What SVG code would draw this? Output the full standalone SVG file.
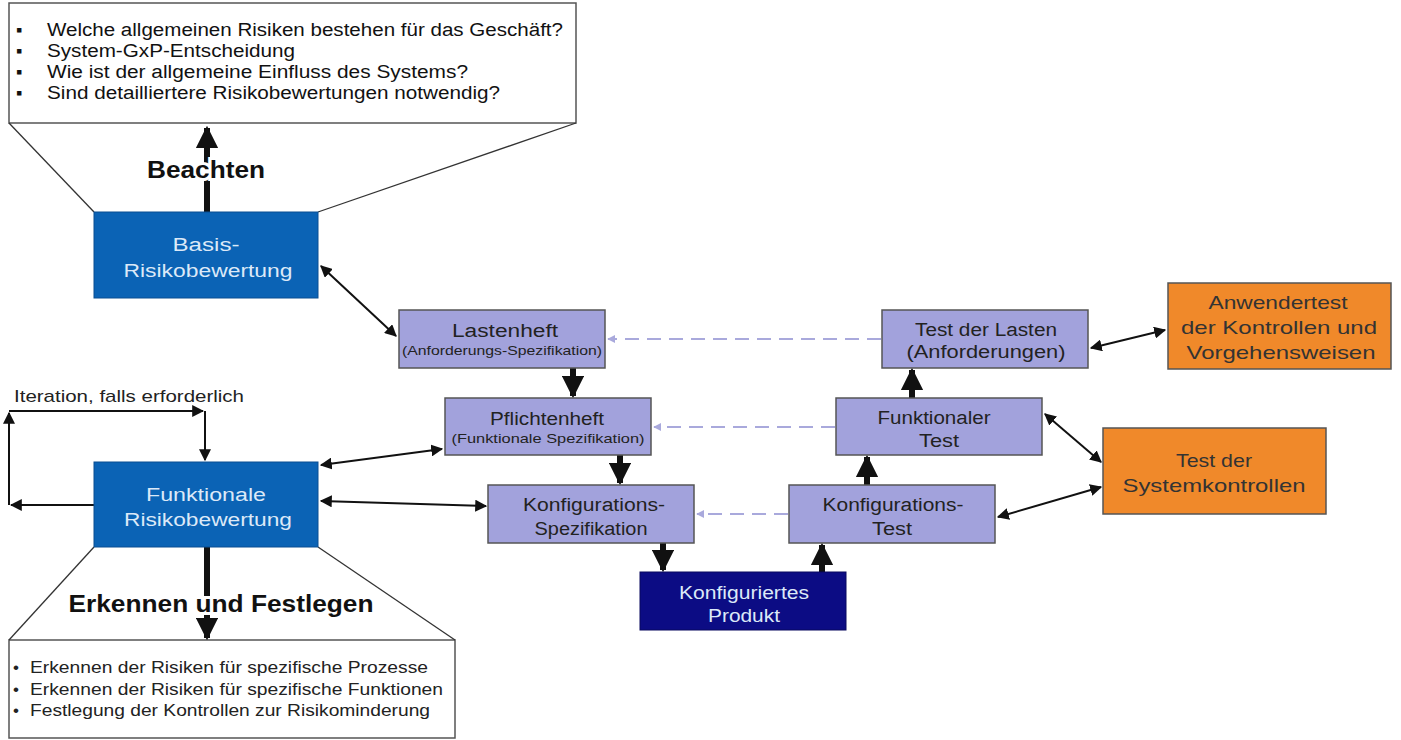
<svg xmlns="http://www.w3.org/2000/svg" width="1401" height="740" viewBox="0 0 1401 740">
<defs>
<style>
text{font-family:"Liberation Sans",Arial,sans-serif}
.lav{fill:#a2a2dc;stroke:#555;stroke-width:1.5}
.blue{fill:#0b63b5;stroke:#0a4f92;stroke-width:1}
.navy{fill:#0c0c84;stroke:#08085e;stroke-width:1}
.orng{fill:#f0892a;stroke:#555;stroke-width:1.5}
.note{fill:#fff;stroke:#555;stroke-width:1.5}
.t{font-size:18px;fill:#222;text-anchor:middle}
.tw{font-size:18px;fill:#dce9f8;text-anchor:middle}
.ts{font-size:13px;fill:#222;text-anchor:middle}
.to{font-size:19px;fill:#333;text-anchor:middle}
.nt{font-size:18px;fill:#111}
.nb{font-size:17px;fill:#222}
.bold{font-size:23px;font-weight:bold;fill:#111;text-anchor:middle;stroke:#fff;stroke-width:6;paint-order:stroke}
.thin{stroke:#111;stroke-width:2;fill:none}
.thick{stroke:#111;stroke-width:6;fill:none}
.dash{stroke:#a9a9dc;stroke-width:2;stroke-dasharray:14 8;fill:none}
.diag{stroke:#333;stroke-width:1.3;fill:none}
</style>
<marker id="ah" viewBox="0 0 10 10" refX="9" refY="5" markerWidth="6" markerHeight="6" orient="auto-start-reverse"><path d="M0,0 L10,5 L0,10 z" fill="#111"/></marker>
<marker id="ahd" viewBox="0 0 10 10" refX="9" refY="5" markerWidth="4" markerHeight="4" orient="auto"><path d="M0,0 L10,5 L0,10 z" fill="#a9a9dc"/></marker>
<marker id="ahT" viewBox="0 0 10 10" refX="9" refY="5" markerWidth="3.7" markerHeight="3.7" orient="auto"><path d="M0,0 L10,5 L0,10 z" fill="#111"/></marker>
</defs>
<rect width="1401" height="740" fill="#fff"/>

<g id="note-top">
<rect class="note" x="9" y="3" width="567" height="120"/>
<text class="nt" x="16" y="36">▪</text><text class="nt" x="47" y="36" textLength="516" lengthAdjust="spacingAndGlyphs">Welche allgemeinen Risiken bestehen für das Geschäft?</text>
<text class="nt" x="16" y="57">▪</text><text class="nt" x="47" y="57" textLength="248" lengthAdjust="spacingAndGlyphs">System-GxP-Entscheidung</text>
<text class="nt" x="16" y="78">▪</text><text class="nt" x="47" y="78" textLength="421" lengthAdjust="spacingAndGlyphs">Wie ist der allgemeine Einfluss des Systems?</text>
<text class="nt" x="16" y="99">▪</text><text class="nt" x="47" y="99" textLength="453" lengthAdjust="spacingAndGlyphs">Sind detailliertere Risikobewertungen notwendig?</text>
</g>

<g id="note-bottom">
<rect class="note" x="9" y="640" width="446" height="98"/>
<text class="nb" x="13" y="673">•</text><text class="nb" x="30" y="673" textLength="398" lengthAdjust="spacingAndGlyphs">Erkennen der Risiken für spezifische Prozesse</text>
<text class="nb" x="13" y="695">•</text><text class="nb" x="30" y="695" textLength="413" lengthAdjust="spacingAndGlyphs">Erkennen der Risiken für spezifische Funktionen</text>
<text class="nb" x="13" y="716">•</text><text class="nb" x="30" y="716" textLength="400" lengthAdjust="spacingAndGlyphs">Festlegung der Kontrollen zur Risikominderung</text>
</g>

<g id="connectors">
<line class="diag" x1="9" y1="123" x2="94" y2="212"/>
<line class="diag" x1="576" y1="123" x2="318" y2="212"/>
<line class="diag" x1="9" y1="640" x2="94" y2="547"/>
<line class="diag" x1="455" y1="640" x2="318" y2="547"/>
<line class="thick" x1="207" y1="212" x2="207" y2="128" marker-end="url(#ahT)"/>
<line class="thick" x1="207" y1="547" x2="207" y2="638" marker-end="url(#ahT)"/>
<line class="thin" x1="321" y1="266" x2="396" y2="336" marker-start="url(#ah)" marker-end="url(#ah)"/>
<line class="thin" x1="321" y1="465" x2="442" y2="449" marker-start="url(#ah)" marker-end="url(#ah)"/>
<line class="thin" x1="321" y1="501" x2="486" y2="506" marker-start="url(#ah)" marker-end="url(#ah)"/>
<line class="thin" x1="94" y1="505" x2="11" y2="505" marker-end="url(#ah)"/>
<line class="thin" x1="9" y1="505" x2="9" y2="413" marker-end="url(#ah)"/>
<line class="thin" x1="9" y1="411" x2="203" y2="411" marker-end="url(#ah)"/>
<line class="thin" x1="205" y1="411" x2="205" y2="460" marker-end="url(#ah)"/>
<line class="thick" x1="573" y1="368" x2="573" y2="396" marker-end="url(#ahT)"/>
<line class="thick" x1="620" y1="455" x2="620" y2="483" marker-end="url(#ahT)"/>
<line class="thick" x1="663" y1="543" x2="663" y2="570" marker-end="url(#ahT)"/>
<line class="thick" x1="822" y1="572" x2="822" y2="545" marker-end="url(#ahT)"/>
<line class="thick" x1="867" y1="485" x2="867" y2="457" marker-end="url(#ahT)"/>
<line class="thick" x1="912" y1="398" x2="912" y2="370" marker-end="url(#ahT)"/>
<line class="dash" x1="881" y1="339" x2="608" y2="339" marker-end="url(#ahd)"/>
<line class="dash" x1="835" y1="427" x2="654" y2="427" marker-end="url(#ahd)"/>
<line class="dash" x1="788" y1="514" x2="697" y2="514" marker-end="url(#ahd)"/>
<line class="thin" x1="1091" y1="348" x2="1165" y2="330" marker-start="url(#ah)" marker-end="url(#ah)"/>
<line class="thin" x1="1045" y1="414" x2="1101" y2="462" marker-start="url(#ah)" marker-end="url(#ah)"/>
<line class="thin" x1="998" y1="517" x2="1101" y2="487" marker-start="url(#ah)" marker-end="url(#ah)"/>
</g>

<g id="label-beachten"><text class="bold" x="206" y="178" textLength="118" lengthAdjust="spacingAndGlyphs">Beachten</text></g>
<g id="label-erkennen"><text class="bold" x="221" y="612" textLength="305" lengthAdjust="spacingAndGlyphs">Erkennen und Festlegen</text></g>
<g id="label-iteration"><text class="nb" x="14" y="402" textLength="230" lengthAdjust="spacingAndGlyphs">Iteration, falls erforderlich</text></g>

<g id="basis">
<rect class="blue" x="94" y="212" width="224" height="86"/>
<text class="tw" x="206" y="251" textLength="67" lengthAdjust="spacingAndGlyphs">Basis-</text>
<text class="tw" x="208" y="277" textLength="169" lengthAdjust="spacingAndGlyphs">Risikobewertung</text>
</g>

<g id="funktionale-risiko">
<rect class="blue" x="94" y="462" width="224" height="85"/>
<text class="tw" x="206" y="501" textLength="120" lengthAdjust="spacingAndGlyphs">Funktionale</text>
<text class="tw" x="208" y="526" textLength="168" lengthAdjust="spacingAndGlyphs">Risikobewertung</text>
</g>

<g id="lastenheft">
<rect class="lav" x="399" y="310" width="206" height="58"/>
<text class="t" x="505" y="337" textLength="106" lengthAdjust="spacingAndGlyphs">Lastenheft</text>
<text class="ts" x="502" y="355" textLength="200" lengthAdjust="spacingAndGlyphs">(Anforderungs-Spezifikation)</text>
</g>

<g id="pflichtenheft">
<rect class="lav" x="445" y="398" width="206" height="57"/>
<text class="t" x="547" y="425" textLength="114" lengthAdjust="spacingAndGlyphs">Pflichtenheft</text>
<text class="ts" x="548" y="443" textLength="193" lengthAdjust="spacingAndGlyphs">(Funktionale Spezifikation)</text>
</g>

<g id="konfig-spez">
<rect class="lav" x="488" y="485" width="206" height="58"/>
<text class="t" x="594" y="511" textLength="142" lengthAdjust="spacingAndGlyphs">Konfigurations-</text>
<text class="t" x="591" y="535" textLength="113" lengthAdjust="spacingAndGlyphs">Spezifikation</text>
</g>

<g id="produkt">
<rect class="navy" x="640" y="572" width="206" height="58"/>
<text class="tw" x="744" y="599" textLength="130" lengthAdjust="spacingAndGlyphs">Konfiguriertes</text>
<text class="tw" x="744" y="622" textLength="72" lengthAdjust="spacingAndGlyphs">Produkt</text>
</g>

<g id="konfig-test">
<rect class="lav" x="789" y="485" width="206" height="58"/>
<text class="t" x="893" y="511" textLength="141" lengthAdjust="spacingAndGlyphs">Konfigurations-</text>
<text class="t" x="892" y="535" textLength="40" lengthAdjust="spacingAndGlyphs">Test</text>
</g>

<g id="funktionaler-test">
<rect class="lav" x="836" y="398" width="206" height="57"/>
<text class="t" x="934" y="424" textLength="113" lengthAdjust="spacingAndGlyphs">Funktionaler</text>
<text class="t" x="939" y="447" textLength="40" lengthAdjust="spacingAndGlyphs">Test</text>
</g>

<g id="test-lasten">
<rect class="lav" x="882" y="310" width="206" height="58"/>
<text class="t" x="986" y="336" textLength="142" lengthAdjust="spacingAndGlyphs">Test der Lasten</text>
<text class="t" x="986" y="358" textLength="159" lengthAdjust="spacingAndGlyphs">(Anforderungen)</text>
</g>

<g id="anwendertest">
<rect class="orng" x="1168" y="283" width="223" height="86"/>
<text class="to" x="1278" y="309" textLength="139" lengthAdjust="spacingAndGlyphs">Anwendertest</text>
<text class="to" x="1279" y="334" textLength="196" lengthAdjust="spacingAndGlyphs">der Kontrollen und</text>
<text class="to" x="1281" y="359" textLength="189" lengthAdjust="spacingAndGlyphs">Vorgehensweisen</text>
</g>

<g id="systemkontrollen">
<rect class="orng" x="1103" y="428" width="223" height="86"/>
<text class="to" x="1214" y="467" textLength="76" lengthAdjust="spacingAndGlyphs">Test der</text>
<text class="to" x="1214" y="492" textLength="183" lengthAdjust="spacingAndGlyphs">Systemkontrollen</text>
</g>
</svg>
